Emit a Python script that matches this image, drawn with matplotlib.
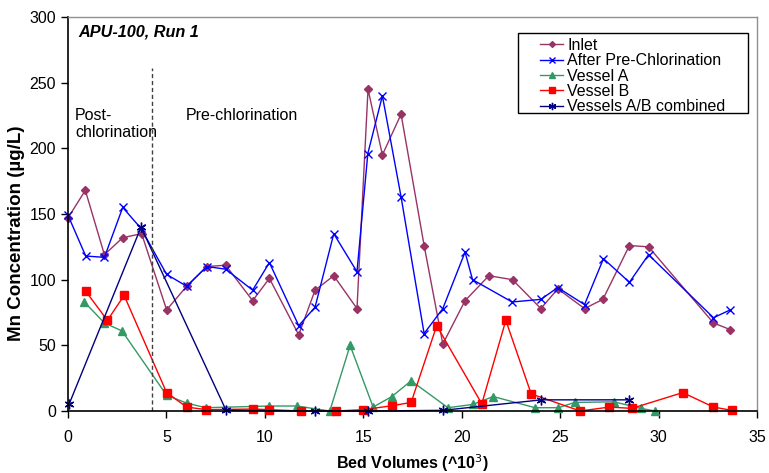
import matplotlib
matplotlib.use("Agg")
import matplotlib.pyplot as plt
from matplotlib.patches import Rectangle

plt.rcParams['font.family'] = ['Liberation Sans', 'DejaVu Sans']

# ---- data ----
inlet_x = [0, 0.88, 1.85, 2.78, 3.74, 5.01, 6.03, 7.05, 8.01, 9.38, 10.23, 11.72, 12.55, 13.5, 14.68,
           15.24, 15.97, 16.92, 18.09, 19.04, 20.17, 21.38, 22.58, 24.02, 24.88, 26.24, 27.17, 28.52,
           29.49, 32.79, 33.64]
inlet_y = [147, 168, 119, 132, 135, 77, 95, 110, 111, 84, 101, 58, 92, 103, 78,
           245, 195, 226, 126, 51, 84, 103, 100, 78, 93, 78, 85, 126,
           125, 67, 62]

after_x = [0, 0.9, 1.85, 2.78, 3.71, 5.01, 6.03, 7.05, 8.01, 9.38, 10.23, 11.72, 12.55, 13.5, 14.68,
           15.23, 15.97, 16.92, 18.09, 19.04, 20.17, 20.55, 22.56, 24.02, 24.88, 26.24, 27.2, 28.52,
           29.49, 32.79, 33.64]
after_y = [149, 118, 117, 155, 139, 104, 95, 110, 108, 92, 113, 65, 79, 135, 106,
           196, 240, 163, 59, 78, 121, 100, 83, 85, 94, 81, 116, 98,
           119, 71, 77]

vesA_x = [0.83, 1.85, 2.74, 5.01, 6.03, 7.0, 10.23, 11.62, 13.3, 14.33, 15.5, 16.45, 17.43, 19.3,
          20.56, 21.6, 23.73, 24.91, 25.73, 27.74, 29.1, 29.83]
vesA_y = [83, 67, 61, 12, 6, 2.5, 3.8, 3.8, 0, 50, 3, 11, 23, 2.5,
          5, 11, 2.5, 2.5, 6.5, 7, 2, 0]

vesB_x = [0.91, 2.0, 2.85, 5.01, 6.03, 7.03, 9.38, 10.23, 11.83, 13.6, 15.0, 16.45, 17.43, 18.73,
          21.02, 22.24, 23.53, 26.02, 27.5, 28.64, 31.23, 32.79, 33.72]
vesB_y = [91, 69, 88, 14, 3, 1, 1.5, 1, 0, 0, 1, 4, 6.5, 65,
          5.5, 69, 13, 0, 3, 2, 14, 3, 0.5]

comb_x = [0.05, 3.71, 8.03, 12.53, 15.24, 19.04, 24.05, 28.5]
comb_y = [5, 140, 0.5, 0, 0, 0.5, 8.5, 8.5]

x_ticks = [0, 5, 10, 15, 20, 25, 30, 35]
y_ticks = [0, 50, 100, 150, 200, 250, 300]

W, H = 769, 473

# ---- figure ----
fig = plt.figure(figsize=(W / 100, H / 100), dpi=100)
ax = fig.add_axes([68/W, 1-411/H, (757-68)/W, (411-17)/H])

lw = 1.0
ax.plot(inlet_x, inlet_y, color='#993366', marker='D', markersize=4, lw=lw, label='Inlet', clip_on=False)
ax.plot(after_x, after_y, color='#0000FF', marker='x', markersize=6, mew=1.0, lw=lw,
        label='After Pre-Chlorination', clip_on=False)
ax.plot(vesA_x, vesA_y, color='#339966', marker='^', markersize=6, lw=lw, label='Vessel A', clip_on=False)
ax.plot(vesB_x, vesB_y, color='#FF0000', marker='s', markersize=6, lw=lw, label='Vessel B', clip_on=False)
ax.plot(comb_x, comb_y, color='#000080', marker=(6, 2, 0), markersize=7, mew=1.0, lw=lw,
        label='Vessels A/B combined', clip_on=False)

ax.axvline(4.27, ymin=0, ymax=261/300, color='#404040', ls=(0, (3, 2)), lw=1.0)

ax.set_xlim(0, 35)
ax.set_ylim(0, 300)
ax.set_xticks(x_ticks)
ax.set_yticks(y_ticks)
ax.tick_params(axis='both', labelsize=11.5, direction='out', length=5, width=1, color='black')
ax.tick_params(axis='x', pad=9)

for s in ['left', 'bottom']:
    ax.spines[s].set_color('black')
    ax.spines[s].set_linewidth(1.2)
for s in ['top', 'right']:
    ax.spines[s].set_color('#909090')
    ax.spines[s].set_linewidth(1.0)

ax.set_xlabel('Bed Volumes (^10$^3$)', fontsize=11.5, fontweight='bold', labelpad=5)
ax.set_ylabel('Mn Concentration (\u00b5g/L)', fontsize=13.5, fontweight='bold')
ax.yaxis.set_label_coords(-0.062, 0.452)

ax.text(0.55, 294, 'APU-100, Run 1', fontsize=11.7, fontweight='bold', fontstyle='italic',
        va='top', ha='left')
ax.text(0.36, 231, 'Post-\nchlorination', fontsize=11.5, va='top', ha='left', linespacing=1.2)
ax.text(6.0, 231, 'Pre-chlorination', fontsize=11.5, va='top', ha='left')

# legend frame drawn separately (in figure coords, inside the axes' artist list)
ax.add_patch(Rectangle((518/W, 1-113/H), (748-518)/W, (113-33)/H, transform=fig.transFigure,
                       fill=True, facecolor='white', edgecolor='black', lw=1.0, zorder=5,
                       clip_on=False))
leg = ax.legend(loc='upper left', bbox_to_anchor=(540/W, 1-38/H), bbox_transform=fig.transFigure,
                fontsize=11.5, frameon=False, borderaxespad=0, labelspacing=0.02,
                handlelength=1.45, handletextpad=0.25, borderpad=0, markerscale=0.75)
leg.set_zorder(6)

fig.savefig('out.png', dpi=100)
